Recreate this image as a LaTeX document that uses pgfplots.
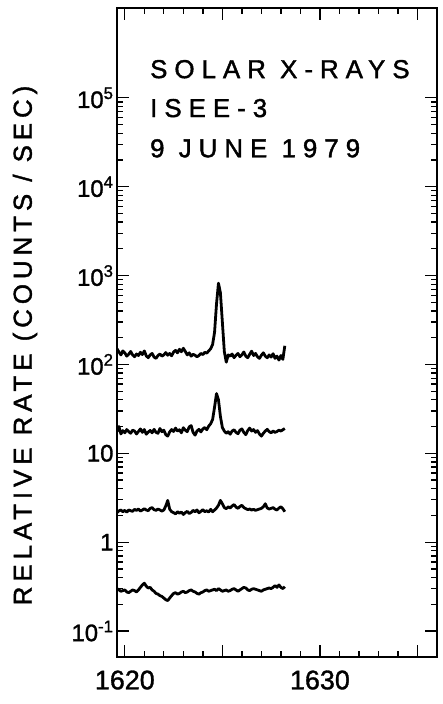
\documentclass[border=0pt]{standalone}
\usepackage{pgfplots}
\pgfplotsset{compat=1.18}
\usepackage{fontspec}
\setmainfont{Liberation Sans}[FakeBold=1.2]
\newfontfamily\widefont{Liberation Sans}[LetterSpace=27, FakeBold=1.5]
\newfontfamily\labfont{Liberation Sans}[LetterSpace=19, FakeBold=1.5]

\begin{document}
\begin{tikzpicture}
\begin{axis}[
    name=ax,
    scale only axis,
    width=320bp, height=649bp,
    xmin=1619.6, xmax=1636,
    ymode=log, ymin=0.051, ymax=1.026e6,
    axis line style={line width=1.8bp},
    every tick/.style={black, line width=1.3bp},
    major tick length=12bp,
    minor tick length=6bp,
    xtick={1620,1625,1630,1635},
    xticklabels={1620,,1630,},
    minor x tick num=4,
    ytick={0.1,1,10,100,1000,10000,100000},
    yticklabels={10\textsuperscript{-1},1,10,10\textsuperscript{2},10\textsuperscript{3},10\textsuperscript{4},10\textsuperscript{5}},
    yticklabel style={font=\fontsize{24}{24}\selectfont},
    xticklabel style={font=\fontsize{27}{27}\selectfont, yshift=-10bp},
    ylabel={RELATIVE RATE (COUNTS / SEC)},
    every axis y label/.style={at={(rel axis cs:-0.2875,0.48)}, rotate=90, anchor=center,
        font=\labfont\fontsize{26}{26}\selectfont},
    clip mode=individual,
]

% top trace
\addplot[black, line width=2.8bp, line join=round] coordinates {
(1619.6,150)(1619.7,138)(1619.8,128)(1619.9,142)(1620.0,135)(1620.1,124)(1620.2,130)(1620.3,140)(1620.4,128)(1620.5,122)
(1620.6,131)(1620.7,126)(1620.8,137)(1620.9,129)(1621.0,142)(1621.1,125)(1621.2,119)(1621.3,128)(1621.4,133)(1621.5,121)
(1621.6,117)(1621.7,126)(1621.8,131)(1621.9,124)(1622.0,128)(1622.1,136)(1622.2,127)(1622.3,133)(1622.4,125)(1622.5,138)
(1622.6,144)(1622.7,135)(1622.8,148)(1622.9,139)(1623.0,152)(1623.1,140)(1623.2,128)(1623.3,135)(1623.4,124)(1623.5,130)
(1623.6,127)(1623.7,122)(1623.8,126)(1623.9,133)(1624.0,129)(1624.1,137)(1624.2,134)(1624.3,142)(1624.4,150)(1624.5,168)
(1624.6,230)(1624.7,480)(1624.8,820)(1624.9,640)(1625.0,300)(1625.1,140)(1625.2,106)(1625.3,128)(1625.4,124)(1625.5,131)
(1625.6,119)(1625.7,127)(1625.8,133)(1625.9,122)(1626.0,128)(1626.1,138)(1626.2,124)(1626.3,119)(1626.4,130)(1626.5,141)
(1626.6,126)(1626.7,133)(1626.8,122)(1626.9,117)(1627.0,127)(1627.1,135)(1627.2,124)(1627.3,119)(1627.4,128)(1627.5,121)
(1627.6,132)(1627.7,117)(1627.8,124)(1627.9,112)(1628.0,126)(1628.1,114)(1628.2,162)
};

% second trace
\addplot[black, line width=2.8bp, line join=round] coordinates {
(1619.6,17.5)(1619.7,20)(1619.8,16.5)(1619.9,18)(1620.0,17)(1620.1,18.5)(1620.2,17.5)(1620.3,16.8)(1620.4,18.2)(1620.5,17.8)
(1620.6,16.5)(1620.7,17.6)(1620.8,18.8)(1620.9,17.2)(1621.0,18.5)(1621.1,16.4)(1621.2,17.3)(1621.3,18.1)(1621.4,17)(1621.5,18.6)
(1621.6,17.2)(1621.7,16.8)(1621.8,19)(1621.9,17.5)(1622.0,18.2)(1622.1,16.2)(1622.2,15.6)(1622.3,17.4)(1622.4,18.5)(1622.5,17.6)
(1622.6,19.2)(1622.7,17.8)(1622.8,18.4)(1622.9,17)(1623.0,19.4)(1623.1,18.2)(1623.2,17.5)(1623.3,19.8)(1623.4,20.5)(1623.5,17.2)
(1623.6,16)(1623.7,17.8)(1623.8,18.6)(1623.9,17.4)(1624.0,18.8)(1624.1,19.5)(1624.2,18.4)(1624.3,20.2)(1624.4,21.5)(1624.5,24)
(1624.6,33)(1624.7,47)(1624.8,40)(1624.9,26)(1625.0,19.5)(1625.1,17.8)(1625.2,16.8)(1625.3,17.5)(1625.4,16.4)(1625.5,17.8)
(1625.6,18.4)(1625.7,17.2)(1625.8,16.6)(1625.9,18.2)(1626.0,18.8)(1626.1,17.2)(1626.2,16.2)(1626.3,18)(1626.4,19.2)(1626.5,17.8)
(1626.6,18.5)(1626.7,17.2)(1626.8,18)(1626.9,16.5)(1627.0,15.6)(1627.1,16.8)(1627.2,17.8)(1627.3,18.6)(1627.4,17.5)(1627.5,17)
(1627.6,17.8)(1627.7,17.2)(1627.8,17.6)(1627.9,18.2)(1628.0,17.8)(1628.1,18.4)(1628.2,19)
};

% third trace
\addplot[black, line width=2.8bp, line join=round] coordinates {
(1619.6,2.15)(1619.7,2.25)(1619.8,2.3)(1619.9,2.2)(1620.0,2.28)(1620.1,2.18)(1620.2,2.3)(1620.3,2.26)(1620.4,2.22)(1620.5,2.34)
(1620.6,2.28)(1620.7,2.36)(1620.8,2.24)(1620.9,2.3)(1621.0,2.38)(1621.1,2.3)(1621.2,2.26)(1621.3,2.4)(1621.4,2.45)(1621.5,2.32)
(1621.6,2.28)(1621.7,2.36)(1621.8,2.3)(1621.9,2.24)(1622.0,2.3)(1622.1,2.55)(1622.2,2.95)(1622.3,2.35)(1622.4,2.2)(1622.5,2.15)
(1622.6,2.08)(1622.7,2.2)(1622.8,2.12)(1622.9,2.18)(1623.0,2.05)(1623.1,2.15)(1623.2,2.22)(1623.3,2.1)(1623.4,2.16)(1623.5,2.28)
(1623.6,2.2)(1623.7,2.3)(1623.8,2.14)(1623.9,2.22)(1624.0,2.32)(1624.1,2.2)(1624.2,2.26)(1624.3,2.18)(1624.4,2.34)(1624.5,2.2)
(1624.6,2.3)(1624.7,2.42)(1624.8,2.6)(1624.9,2.95)(1625.0,2.7)(1625.1,2.45)(1625.2,2.38)(1625.3,2.5)(1625.4,2.42)(1625.5,2.55)
(1625.6,2.65)(1625.7,2.48)(1625.8,2.4)(1625.9,2.52)(1626.0,2.6)(1626.1,2.45)(1626.2,2.38)(1626.3,2.32)(1626.4,2.36)(1626.5,2.3)
(1626.6,2.34)(1626.7,2.28)(1626.8,2.32)(1626.9,2.36)(1627.0,2.4)(1627.1,2.5)(1627.2,2.7)(1627.3,2.42)(1627.4,2.36)(1627.5,2.4)
(1627.6,2.45)(1627.7,2.35)(1627.8,2.3)(1627.9,2.42)(1628.0,2.5)(1628.1,2.38)(1628.2,2.2)
};

% bottom trace
\addplot[black, line width=2.8bp, line join=round] coordinates {
(1619.6,0.30)(1619.7,0.29)(1619.8,0.28)(1619.9,0.285)(1620.0,0.29)(1620.1,0.275)(1620.2,0.27)(1620.3,0.28)(1620.4,0.29)(1620.5,0.285)
(1620.6,0.275)(1620.7,0.29)(1620.8,0.31)(1620.9,0.33)(1621.0,0.345)(1621.1,0.32)(1621.2,0.305)(1621.3,0.31)(1621.4,0.29)(1621.5,0.28)
(1621.6,0.265)(1621.7,0.26)(1621.8,0.25)(1621.9,0.245)(1622.0,0.235)(1622.1,0.225)(1622.2,0.22)(1622.3,0.235)(1622.4,0.25)(1622.5,0.265)
(1622.6,0.27)(1622.7,0.26)(1622.8,0.265)(1622.9,0.275)(1623.0,0.28)(1623.1,0.27)(1623.2,0.275)(1623.3,0.285)(1623.4,0.29)(1623.5,0.28)
(1623.6,0.275)(1623.7,0.265)(1623.8,0.26)(1623.9,0.27)(1624.0,0.275)(1624.1,0.285)(1624.2,0.29)(1624.3,0.28)(1624.4,0.285)(1624.5,0.29)
(1624.6,0.295)(1624.7,0.285)(1624.8,0.3)(1624.9,0.29)(1625.0,0.28)(1625.1,0.285)(1625.2,0.29)(1625.3,0.28)(1625.4,0.285)(1625.5,0.295)
(1625.6,0.3)(1625.7,0.29)(1625.8,0.28)(1625.9,0.29)(1626.0,0.3)(1626.1,0.31)(1626.2,0.305)(1626.3,0.29)(1626.4,0.285)(1626.5,0.295)
(1626.6,0.3)(1626.7,0.295)(1626.8,0.29)(1626.9,0.285)(1627.0,0.28)(1627.1,0.29)(1627.2,0.295)(1627.3,0.3)(1627.4,0.305)(1627.5,0.3)
(1627.6,0.31)(1627.7,0.325)(1627.8,0.31)(1627.9,0.33)(1628.0,0.31)(1628.1,0.3)(1628.2,0.315)
};

\node[anchor=base west, inner sep=0, font=\widefont\fontsize{26}{26}\selectfont] at (rel axis cs:0.103,0.892) {SOLAR X-RAYS};
\node[anchor=base west, inner sep=0, font=\widefont\fontsize{26}{26}\selectfont] at (rel axis cs:0.103,0.832) {ISEE-3};
\node[anchor=base west, inner sep=0, font=\widefont\fontsize{26}{26}\selectfont] at (rel axis cs:0.103,0.770) {9 JUNE 1979};
\end{axis}
\pgfresetboundingbox
\path ([shift={(-117bp,-47bp)}]ax.south west) rectangle ([shift={(6bp,8bp)}]ax.north east);
\end{tikzpicture}
\end{document}
